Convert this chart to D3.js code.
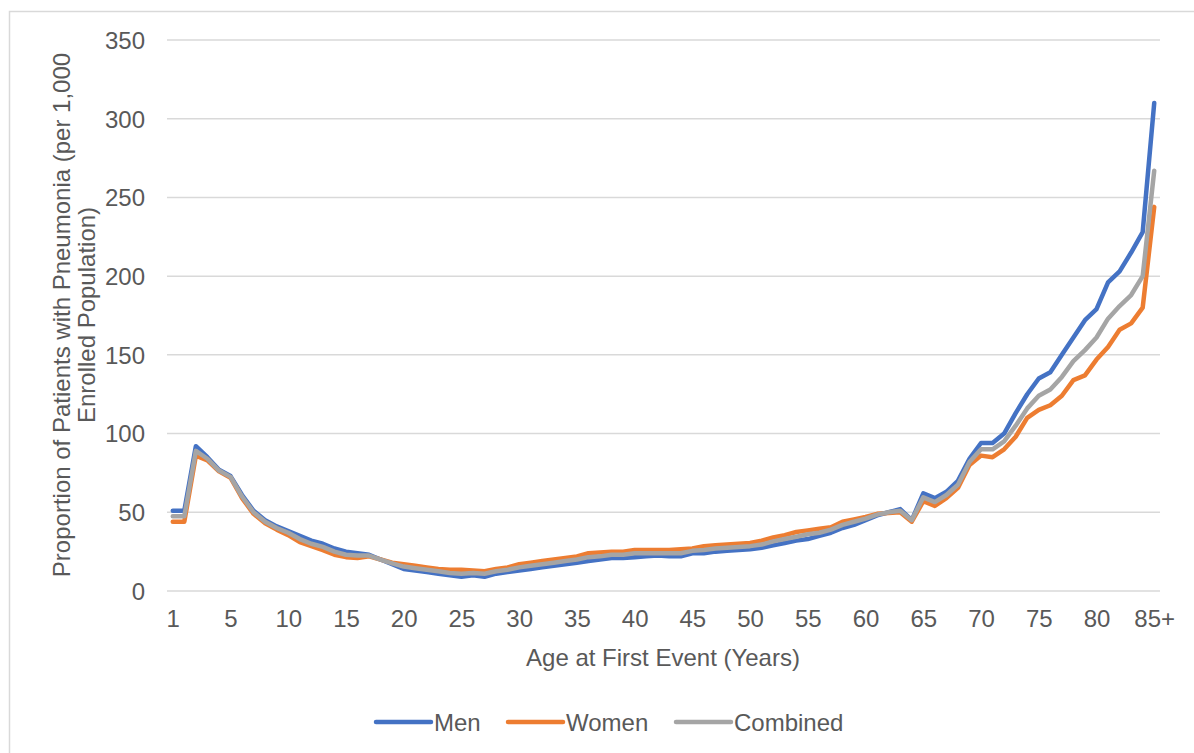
<!DOCTYPE html>
<html>
<head>
<meta charset="utf-8">
<script src="https://cdn.jsdelivr.net/npm/d3@7"></script>
<style>
  html, body { margin: 0; padding: 0; background: #fff; }
  svg { display: block; font-family: "Liberation Sans", Arial, sans-serif; }
</style>
</head>
<body>
<svg id="chart" width="1194" height="753"></svg>
<script>
// ---- Data ----
const categories = ["0","1","2","3","4","5","6","7","8","9","10","11","12","13","14","15","16","17","18","19",
  "20","21","22","23","24","25","26","27","28","29","30","31","32","33","34","35","36","37","38","39",
  "40","41","42","43","44","45","46","47","48","49","50","51","52","53","54","55","56","57","58","59",
  "60","61","62","63","64","65","66","67","68","69","70","71","72","73","74","75","76","77","78","79",
  "80","81","82","83","84","85+"];

const tickCategories = ["0","5","10","15","20","25","30","35","40","45","50","55","60","65","70","75","80","85+"];
const tickLabels     = ["1","5","10","15","20","25","30","35","40","45","50","55","60","65","70","75","80","85+"];

const yTicks = [0, 50, 100, 150, 200, 250, 300, 350];

const men = [51,51,92,85,77,73,61,51,45,41,38,35,32,30,27,25,24,23,20,17,
  14,13,12,11,10,9,10,9,11,12,13,14,15,16,17,18,19,20,21,21,
  21.5,22,22.5,22,22,24,24,25,25.5,26,26.5,27.5,29,30.5,32,33,35,37,40,42,
  45,48,50,52,45,62,59,63,70,84,94,94,100,113,125,135,139,150,161,172,
  179,196,203,215,228,310];

const women = [44,44,86,83,76,72,59,49,43,39,35.5,31,28.5,26,23,21.5,21,22,20,18,
  17,16,15,14,13.5,13.5,13,12.5,14,15,17,18,19,20,21,22,24,24.5,25,25,
  26,26,26,26,26.5,27,28.5,29,29.5,30,30.5,32,34,35.5,37.5,38.5,39.5,40.5,44,45.5,
  47,49,49.5,50,44,57,54,59,65.5,80,86,85,90,98,110,115,118,124,134,137,
  147,155,166,170,180,244];

const combined = [47.5,47.5,89,84,76.5,72.5,60,50,44,40,37,33,30,28,25,23,22.5,22.5,20,17.5,
  15.5,14.5,13.5,12.5,11.5,11,11.5,11,12.5,13.5,15,16,17,18,19,20,21.5,22,23,23,
  24,24,24,24,24,25.5,26,27,27.5,28,28.5,29.5,31.5,33,34.5,36,37,39,42,44,
  46,48.5,50,51,45,59.5,56.5,61,67.5,82,90,90,95,105,116,124,128,136,146,153,
  161,173,181,188,200,267];

const seriesNames = ["Men", "Women", "Combined"];
const seriesColors = ["#4472C4", "#ED7D31", "#A5A5A5"];
const seriesValues = [men, women, combined];

// ---- Layout ----
const svg = d3.select("#chart");
const textColor = "#595959";
const gridColor = "#D9D9D9";
const plotLeft = 167, plotRight = 1160, plotTop = 40, plotBottom = 591;

// chart border
svg.append("rect")
  .attr("x", 9.5).attr("y", 11.5)
  .attr("width", 1200).attr("height", 800)
  .attr("fill", "#fff").attr("stroke", gridColor).attr("stroke-width", 1.5);

const x = d3.scalePoint().domain(categories).range([plotLeft, plotRight]).padding(0.5);
const y = d3.scaleLinear().domain([0, 350]).range([plotBottom, plotTop]);

// gridlines
svg.append("g").selectAll("line").data(yTicks).join("line")
  .attr("x1", plotLeft).attr("x2", plotRight)
  .attr("y1", d => y(d)).attr("y2", d => y(d))
  .attr("stroke", gridColor).attr("stroke-width", 1.5);

// y axis labels
const yAxis = d3.axisLeft(y).tickValues(yTicks).tickSize(0).tickPadding(0);
const gy = svg.append("g").attr("transform", "translate(145,0)").call(yAxis);
gy.select(".domain").remove();
gy.selectAll("text").attr("fill", textColor).attr("font-size", 24)
  .attr("font-family", "'Liberation Sans', Arial, sans-serif")
  .attr("dy", "0.35em").attr("x", 0);

// x axis labels
const tickMap = new Map(tickCategories.map((c, i) => [c, tickLabels[i]]));
const xAxis = d3.axisBottom(x).tickValues(tickCategories).tickSize(0).tickPadding(0)
  .tickFormat(c => tickMap.get(c));
const gx = svg.append("g").attr("transform", "translate(0,619)").call(xAxis);
gx.select(".domain").remove();
gx.selectAll("text").attr("fill", textColor).attr("font-size", 24)
  .attr("font-family", "'Liberation Sans', Arial, sans-serif")
  .attr("y", 0).attr("dy", "0.35em");

// lines
const line = d3.line()
  .x((d, i) => x(categories[i]))
  .y(d => y(d));

svg.append("g").selectAll("path").data(seriesValues).join("path")
  .attr("d", d => line(d))
  .attr("fill", "none")
  .attr("stroke", (d, i) => seriesColors[i])
  .attr("stroke-width", 4.5)
  .attr("stroke-linejoin", "round")
  .attr("stroke-linecap", "round");

// axis titles
svg.append("text")
  .attr("x", 663).attr("y", 657)
  .attr("text-anchor", "middle").attr("dominant-baseline", "central")
  .attr("fill", textColor).attr("font-size", 24)
  .text("Age at First Event (Years)");

const yTitle = svg.append("text")
  .attr("transform", "translate(61,315) rotate(-90)")
  .attr("text-anchor", "middle")
  .attr("fill", textColor).attr("font-size", 24);
yTitle.append("tspan").attr("x", 0).attr("y", 0).attr("dominant-baseline", "central")
  .text("Proportion of Patients with Pneumonia (per 1,000");
yTitle.append("tspan").attr("x", 0).attr("y", 25).attr("dominant-baseline", "central")
  .text("Enrolled Population)");

// legend
const legendX = [376, 508, 676];
const lg = svg.append("g").selectAll("g").data(seriesNames).join("g")
  .attr("transform", (d, i) => `translate(${legendX[i]},722)`);
lg.append("line")
  .attr("x1", 0).attr("x2", 55).attr("y1", 0).attr("y2", 0)
  .attr("stroke", (d, i) => seriesColors[i])
  .attr("stroke-width", 4.5).attr("stroke-linecap", "round");
lg.append("text")
  .attr("x", 58).attr("y", 0).attr("dominant-baseline", "central")
  .attr("fill", textColor).attr("font-size", 24)
  .text(d => d);
</script>
</body>
</html>
